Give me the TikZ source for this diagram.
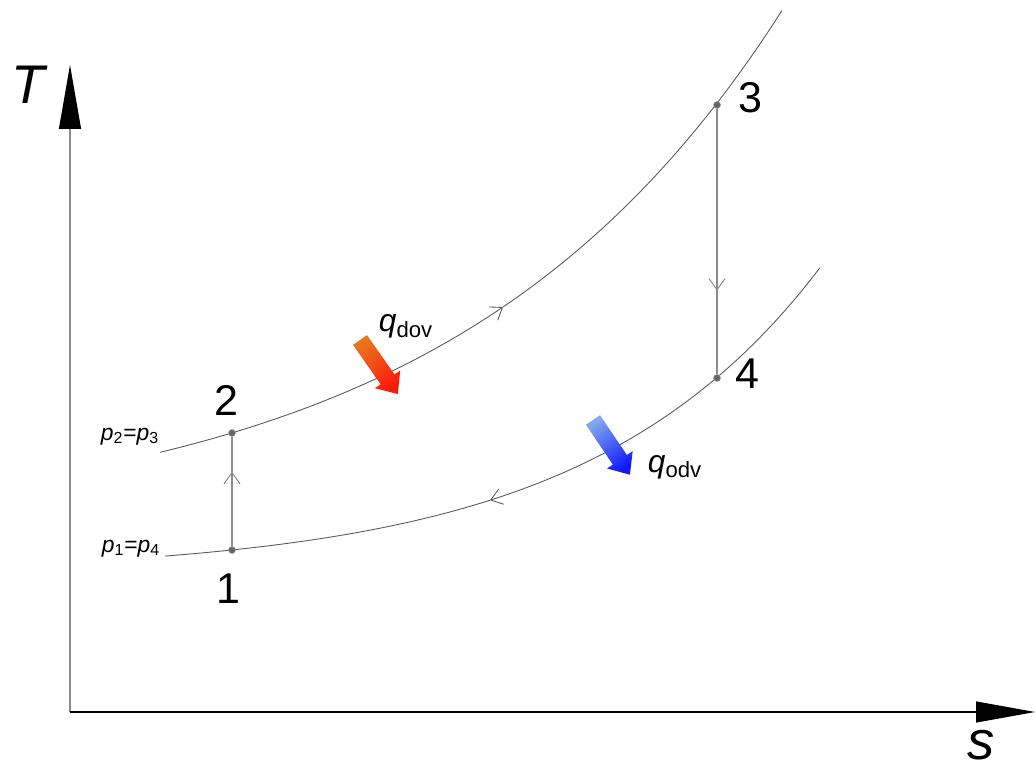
\documentclass[tikz,border=0pt]{standalone}
\usepackage{fontspec}
\setmainfont{Liberation Sans}
\usepackage{tikz}
\usetikzlibrary{arrows.meta,calc,positioning,decorations.markings}

\definecolor{heatin1}{RGB}{232,118,30}
\definecolor{heatin2}{RGB}{255,25,10}
\definecolor{heatout1}{RGB}{130,168,236}
\definecolor{heatout2}{RGB}{15,25,250}

\begin{document}
\begin{tikzpicture}[x=0.02cm, y=-0.02cm,
                    >={Straight Barb[length=2.2mm, width=3.2mm]},
  state/.style={circle, inner sep=0pt, minimum size=1.4mm, fill=black!60, draw=black!40, line width=0.3pt},
  num/.style={font=\fontsize{24.5}{28}\selectfont},
  axislabel/.style={inner sep=0pt, font=\fontsize{31}{34}\selectfont\itshape},
  isobar/.style={black!65, line width=0.5pt},
  change/.style={black!45, line width=0.6pt},
  midarrow/.style={postaction={decorate}, decoration={markings, mark=at position #1 with {\arrow{>}}}},
  qin/.style={top color=heatin1, bottom color=heatin2, shading angle=35},
  qout/.style={top color=heatout1, bottom color=heatout2, shading angle=35}]
\useasboundingbox (0,0) rectangle (1036,767);

% axes
\coordinate (origin) at (70,712);
\coordinate (Ttip) at (70,65);
\coordinate (stip) at (1035,712);
\draw[black!45, line width=0.6pt, -{Triangle[length=12.8mm, width=4.4mm, color=black]}] (origin) -- (Ttip);
\draw[black, line width=0.6pt, -{Triangle[length=11.8mm, width=4.2mm]}] (origin) -- (stip);
\node[axislabel] (Tlab) at (28,85) {T};
\node[axislabel] (slab) at (981,745) {s};

% isobars
\draw[isobar, ->] plot[domain=160:503, samples=40, smooth] (\x, {532.9-49.8*exp(0.003*\x)});
\draw[isobar] plot[domain=503:782, samples=40, smooth] (\x, {532.9-49.8*exp(0.003*\x)});
\draw[isobar] plot[domain=165:490, samples=40, smooth] (\x, {574.4-9.006*exp(0.0043*\x)});
\draw[isobar, <-] plot[domain=490:820, samples=40, smooth] (\x, {574.4-9.006*exp(0.0043*\x)});
\node[font=\fontsize{13}{15}\selectfont, anchor=base] (phigh) at (130,440) {\textit{p}\textsubscript{2}=\textit{p}\textsubscript{3}};
\node[font=\fontsize{13}{15}\selectfont, anchor=base] (plow) at (131,552) {\textit{p}\textsubscript{1}=\textit{p}\textsubscript{4}};

% states
\node[state] (p1) at (232,550) {};
\node[state] (p2) at (232,433) {};
\node[state] (p3) at (717,105) {};
\node[state] (p4) at (717,378) {};
\draw[change, midarrow=0.68] (p1) -- (p2);
\draw[change, midarrow=0.685] (p3) -- (p4);
\node[num] (n1) at (228,589) {1};
\node[num] (n2) at (226,400) {2};
\node[num] (n3) at (750,98) {3};
\node[num] (n4) at (747,374) {4};

% heat in / out
\shade[qin, shift={(360,340)}, rotate=-55] (0,-8.5) -- (48,-8.5) -- (48,-15.5) -- (66,0) -- (48,15.5) -- (48,8.5) -- (0,8.5) -- cycle;
\shade[qout, shift={(593,420)}, rotate=-56] (0,-8.5) -- (48,-8.5) -- (48,-15.5) -- (66,0) -- (48,15.5) -- (48,8.5) -- (0,8.5) -- cycle;
\node[font=\fontsize{18}{20}\selectfont, anchor=base] (qdov) at (406,332) {\textit{q}\textsubscript{dov}};
\node[font=\fontsize{18}{20}\selectfont, anchor=base] (qodv) at (675,472) {\textit{q}\textsubscript{odv}};
\end{tikzpicture}
\end{document}
